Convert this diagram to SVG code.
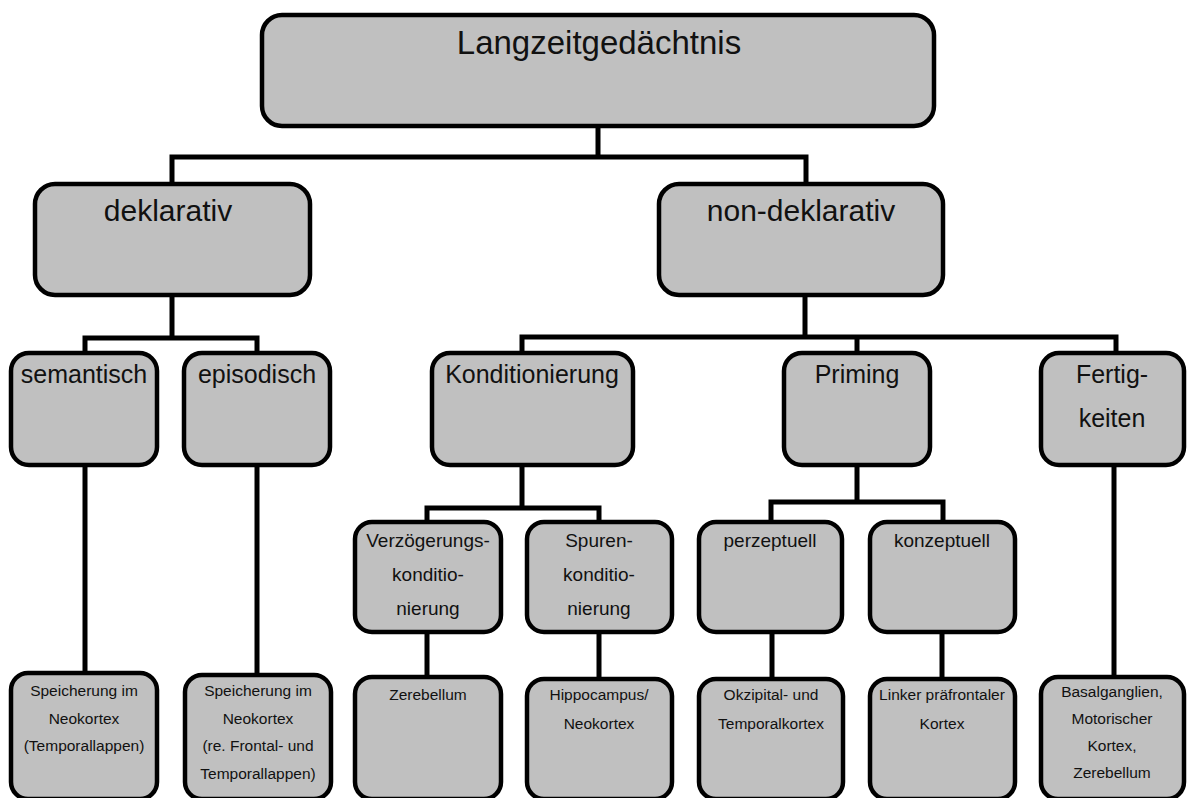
<svg xmlns="http://www.w3.org/2000/svg" width="1187" height="798" viewBox="0 0 1187 798">
<style>
.box{fill:#c0c0c0;stroke:#000;stroke-width:4.5}
.c{fill:none;stroke:#000;stroke-width:5}
text{font-family:"Liberation Sans",Arial,sans-serif;fill:#111;text-anchor:middle}
.t1{font-size:33px}
.t2{font-size:30px}
.t3{font-size:25px}
.t4{font-size:19px}
.t5{font-size:15.5px}
</style>
<rect width="1187" height="798" fill="#fff"/>
<g id="connectors">
<path class="c" d="M598,127 V157 M172,184 V157 H806 V184"/>
<path class="c" d="M172,295 V338 M85,353 V338 H257 V353"/>
<path class="c" d="M805,295 V337 M522,353 V337 H1116 V353 M857,337 V353"/>
<path class="c" d="M85,465 V673 M257,465 V675 M1114,465 V677"/>
<path class="c" d="M522,465 V508 M427,522 V508 H599 V522"/>
<path class="c" d="M857,465 V502 M771,522 V502 H943 V522"/>
<path class="c" d="M427,632 V677 M599,632 V679 M772,632 V679 M942,632 V679"/>
</g>
<g id="n-langzeit"><rect class="box" x="262" y="15" width="672" height="111" rx="20"/><text class="t1" x="599" y="54">Langzeitgedächtnis</text></g>
<g id="n-deklarativ"><rect class="box" x="35" y="184" width="275" height="111" rx="20"/><text class="t2" x="168" y="221">deklarativ</text></g>
<g id="n-nondeklarativ"><rect class="box" x="659" y="184" width="284" height="111" rx="20"/><text class="t2" x="801" y="221">non-deklarativ</text></g>
<g id="n-semantisch"><rect class="box" x="11" y="353" width="146" height="112" rx="18"/><text class="t3" x="84" y="383">semantisch</text></g>
<g id="n-episodisch"><rect class="box" x="184" y="353" width="146" height="112" rx="18"/><text class="t3" x="257" y="383">episodisch</text></g>
<g id="n-konditionierung"><rect class="box" x="432" y="353" width="201" height="112" rx="18"/><text class="t3" x="532" y="383">Konditionierung</text></g>
<g id="n-priming"><rect class="box" x="784" y="353" width="146" height="112" rx="18"/><text class="t3" x="857" y="383">Priming</text></g>
<g id="n-fertigkeiten"><rect class="box" x="1041" y="353" width="143" height="112" rx="18"/><text class="t3" x="1112" y="383">Fertig-</text><text class="t3" x="1112" y="427">keiten</text></g>
<g id="n-verzoegerung"><rect class="box" x="355" y="522" width="146" height="110" rx="17"/><text class="t4" x="428" y="547">Verzögerungs-</text><text class="t4" x="428" y="581">konditio-</text><text class="t4" x="428" y="615">nierung</text></g>
<g id="n-spuren"><rect class="box" x="527" y="522" width="145" height="110" rx="17"/><text class="t4" x="599" y="547">Spuren-</text><text class="t4" x="599" y="581">konditio-</text><text class="t4" x="599" y="615">nierung</text></g>
<g id="n-perzeptuell"><rect class="box" x="699" y="522" width="143" height="110" rx="17"/><text class="t4" x="770" y="547">perzeptuell</text></g>
<g id="n-konzeptuell"><rect class="box" x="870" y="522" width="145" height="110" rx="17"/><text class="t4" x="942" y="547">konzeptuell</text></g>
<g id="n-leaf-sem"><rect class="box" x="11" y="673" width="146" height="126" rx="17"/><text class="t5" x="84" y="696">Speicherung im</text><text class="t5" x="84" y="723.5">Neokortex</text><text class="t5" x="84" y="751">(Temporallappen)</text></g>
<g id="n-leaf-epi"><rect class="box" x="185" y="675" width="146" height="124" rx="17"/><text class="t5" x="258" y="696">Speicherung im</text><text class="t5" x="258" y="723.5">Neokortex</text><text class="t5" x="258" y="751">(re. Frontal- und</text><text class="t5" x="258" y="778.5">Temporallappen)</text></g>
<g id="n-leaf-zer"><rect class="box" x="355" y="677" width="146" height="122" rx="17"/><text class="t5" x="428" y="700">Zerebellum</text></g>
<g id="n-leaf-hip"><rect class="box" x="527" y="679" width="145" height="120" rx="17"/><text class="t5" x="599" y="700">Hippocampus/</text><text class="t5" x="599" y="729">Neokortex</text></g>
<g id="n-leaf-okz"><rect class="box" x="699" y="679" width="144" height="120" rx="17"/><text class="t5" x="771" y="700">Okzipital- und</text><text class="t5" x="771" y="729">Temporalkortex</text></g>
<g id="n-leaf-lpk"><rect class="box" x="870" y="679" width="145" height="120" rx="17"/><text class="t5" x="942" y="700">Linker präfrontaler</text><text class="t5" x="942" y="729">Kortex</text></g>
<g id="n-leaf-bas"><rect class="box" x="1041" y="677" width="143" height="122" rx="17"/><text class="t5" x="1112" y="697">Basalganglien,</text><text class="t5" x="1112" y="724">Motorischer</text><text class="t5" x="1112" y="751">Kortex,</text><text class="t5" x="1112" y="778">Zerebellum</text></g>
</svg>
